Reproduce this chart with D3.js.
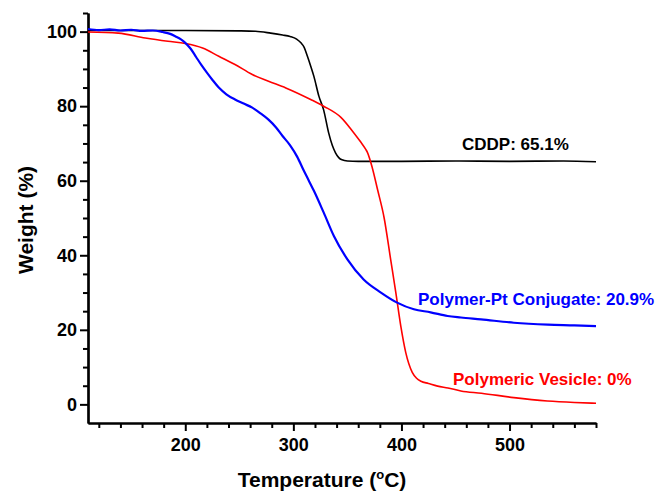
<!DOCTYPE html>
<html>
<head>
<meta charset="utf-8">
<script src="https://cdn.jsdelivr.net/npm/d3@7"></script>
<style>
  html, body { margin: 0; padding: 0; background: #fff; }
  svg { display: block; font-family: "Liberation Sans", Arial, sans-serif; font-weight: bold; }
</style>
</head>
<body>
<svg id="chart" width="656" height="491"></svg>
<script>
// ---- data ----
const cddpT = [110, 150, 200, 250, 265, 279, 290, 297, 303, 307, 310, 313, 316, 319, 323.6, 328, 332.6, 336, 339, 342, 345, 350, 360, 400, 450, 500, 550, 580];
const cddpW = [100.3, 100.3, 100.3, 100.2, 100.1, 99.6, 99.1, 98.7, 98.0, 97.0, 95.8, 93.4, 90.8, 88.0, 82.7, 79.0, 72.9, 69.5, 67.5, 66.2, 65.6, 65.3, 65.2, 65.2, 65.3, 65.2, 65.3, 65.1];

const vesT = [110, 138, 163, 184, 200, 216, 231, 246, 262, 277, 293, 316, 328, 344, 356, 362, 367, 368.5, 373, 378, 384, 390, 394.8, 399.4, 404, 410, 414, 418, 425, 433.5, 443, 455, 474, 504, 535, 560, 580];
const vesW = [99.9, 99.6, 98.3, 97.4, 96.8, 95.6, 93.4, 91.2, 88.5, 86.7, 84.9, 81.8, 80.0, 77.0, 72.8, 70.5, 68.4, 67.6, 63.5, 57.5, 50.0, 38.9, 30.0, 21.0, 13.9, 8.6, 7.0, 6.2, 5.6, 4.9, 4.4, 3.6, 3.0, 1.8, 0.9, 0.5, 0.3];

const conjT = [110, 120, 130, 140, 150, 160, 170, 179, 186, 191, 196, 200, 205, 210, 215, 220, 225, 231, 238, 246, 254, 262, 270, 277, 284, 290, 297, 303.6, 309.5, 314, 319, 328, 337.6, 350, 365, 381, 396, 411.5, 427, 442.7, 455, 473.6, 504, 535.5, 560, 580];
const conjW = [100.7, 100.4, 100.6, 100.3, 100.5, 100.2, 100.3, 99.9, 99.4, 98.7, 97.9, 97.0, 95.4, 93.2, 91.0, 89.0, 87.1, 85.0, 83.2, 81.8, 80.7, 79.6, 78.0, 76.4, 74.3, 72.0, 69.5, 66.4, 62.8, 60.2, 57.3, 51.5, 45.1, 38.9, 33.5, 30.0, 27.3, 25.5, 24.7, 23.7, 23.3, 22.8, 21.9, 21.4, 21.2, 21.0];

const xMajorTicks = [200, 300, 400, 500];
const yMajorTicks = [0, 20, 40, 60, 80, 100];
const xLabel = "Temperature (";
const yLabel = "Weight (%)";
const annotations = ["CDDP: 65.1%", "Polymer-Pt Conjugate: 20.9%", "Polymeric Vesicle: 0%"];

// ---- layout ----
const svg = d3.select("#chart");
const x = d3.scaleLinear().domain([110, 580]).range([88, 596]);
const y = d3.scaleLinear().domain([-5, 105]).range([423, 13]);

const xMinor = d3.range(120, 581, 20).filter(v => v % 100 !== 0);
const yMinor = d3.range(5, 106, 5).filter(v => v % 20 !== 0);

function styleAxis(g) {
  g.select(".domain").attr("stroke", "#000").attr("stroke-width", 2.2);
  g.selectAll(".tick line").attr("stroke", "#000").attr("stroke-width", 2);
  g.selectAll(".tick text").attr("fill", "#000").style("font-size", "18px").style("font-weight", "bold")
    .style("font-family", "'Liberation Sans', Arial, sans-serif");
}

// minor ticks
svg.append("g").attr("transform", "translate(0,423)")
  .call(d3.axisBottom(x).tickValues(xMinor).tickSize(5).tickSizeOuter(0).tickFormat(""))
  .call(styleAxis);
svg.append("g").attr("transform", "translate(88,0)")
  .call(d3.axisLeft(y).tickValues(yMinor).tickSize(5).tickSizeOuter(0).tickFormat(""))
  .call(styleAxis);
// major ticks
svg.append("g").attr("transform", "translate(0,423)")
  .call(d3.axisBottom(x).tickValues(xMajorTicks).tickSize(8).tickPadding(7).tickSizeOuter(0).tickFormat(d3.format("d")))
  .call(styleAxis);
svg.append("g").attr("transform", "translate(88,0)")
  .call(d3.axisLeft(y).tickValues(yMajorTicks).tickSize(8).tickPadding(3).tickSizeOuter(0).tickFormat(d3.format("d")))
  .call(styleAxis);

// ---- lines ----
const line = d3.line().x(d => x(d[0])).y(d => y(d[1])).curve(d3.curveMonotoneX);
const series = [
  { T: cddpT, W: cddpW, color: "#000000", width: 1.6 },
  { T: vesT, W: vesW, color: "#ff0000", width: 1.6 },
  { T: conjT, W: conjW, color: "#0000ff", width: 2.2 }
];
series.forEach(s => {
  svg.append("path")
    .datum(d3.zip(s.T, s.W))
    .attr("fill", "none")
    .attr("stroke", s.color)
    .attr("stroke-width", s.width)
    .attr("stroke-linejoin", "round")
    .attr("d", line);
});

// ---- axis titles ----
const xt = svg.append("text").attr("x", 322).attr("y", 487).attr("text-anchor", "middle")
  .style("font-size", "21px").attr("fill", "#000");
xt.append("tspan").text(xLabel);
xt.append("tspan").attr("dy", -8).style("font-size", "13px").text("o");
xt.append("tspan").attr("dy", 8).text("C)");

svg.append("text").attr("transform", "translate(33,220) rotate(-90)")
  .attr("text-anchor", "middle").style("font-size", "21px").attr("fill", "#000").text(yLabel);

// ---- annotations ----
svg.append("text").attr("x", 462).attr("y", 150).style("font-size", "17px").attr("fill", "#000").text(annotations[0]);
svg.append("text").attr("x", 418).attr("y", 305).style("font-size", "17px").attr("fill", "#0000ff").text(annotations[1]);
svg.append("text").attr("x", 453).attr("y", 385).style("font-size", "17px").attr("fill", "#ff0000").text(annotations[2]);
</script>
</body>
</html>
